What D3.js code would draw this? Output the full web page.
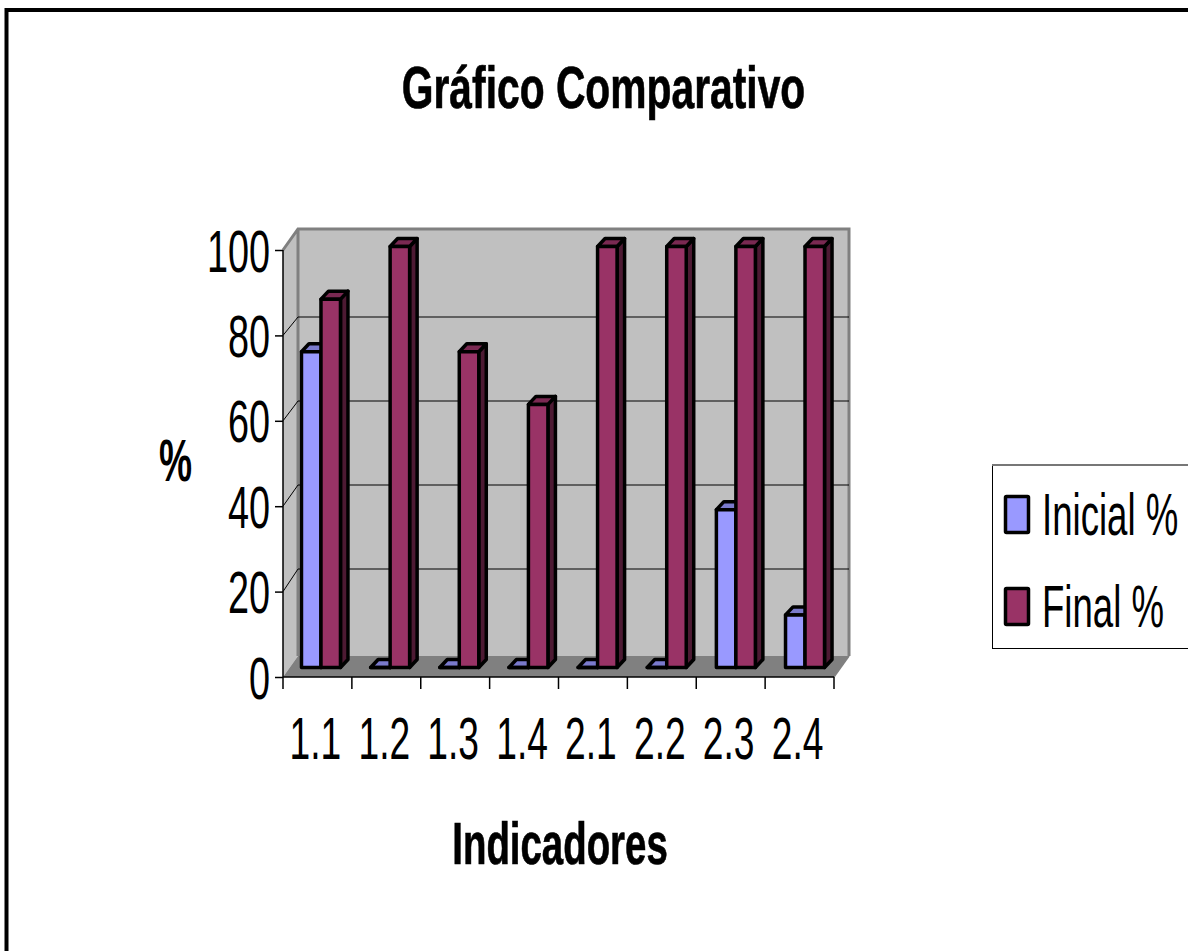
<!DOCTYPE html>
<html>
<head>
<meta charset="utf-8">
<script src="https://cdn.jsdelivr.net/npm/d3@7"></script>
<style>
  html, body { margin: 0; padding: 0; background: #fff; }
  svg { display: block; }
  text { font-family: "Liberation Sans", Arial, sans-serif; fill: #000; }
  .heavy { stroke: #000; stroke-width: 0.7px; }
</style>
</head>
<body>
<svg id="chart" width="1188" height="951"></svg>
<script>
const categories = ['1.1', '1.2', '1.3', '1.4', '2.1', '2.2', '2.3', '2.4'];
const inicial = [75, 0, 0, 0, 0, 0, 37.5, 12.5];
const final_ = [87.5, 100, 75, 62.5, 100, 100, 100, 100];
const yTicks = [0, 20, 40, 60, 80, 100];
const seriesNames = ['Inicial %', 'Final %'];
const seriesColors = ['#9999ff', '#993366'];
const sideColors = ['#6666b0', '#4d1a33'];
const topColors = ['#7a7acc', '#7a2952'];

const svg = d3.select('#chart');

// front plane of the 3d box
const x = d3.scaleBand().domain(categories).range([283, 834]);
const y = d3.scaleLinear().domain([0, 100]).range([677, 250]);
// bars stand half way into the box, gridlines on the back wall
const xBar = d3.scaleBand().domain(categories).range([286.4, 839.6]);
const yBar = d3.scaleLinear().domain([0, 100]).range([667.5, 246.5]);
const yWall = d3.scaleLinear().domain([0, 100]).range([653, 233]);

const wall = { dx: 15, dy: -21 };
const barDepth = { dx: 7.5, dy: -8 };
const barW = 19.5;

const poly = pts => pts.map(p => p.join(',')).join(' ');

// outer frame
svg.append('path').attr('d', 'M6.5,951V10H1188')
  .attr('fill', 'none').attr('stroke', '#000').attr('stroke-width', 4);

const x0 = x.range()[0], x1 = x.range()[1];
const yB = y(0), yT = y(100);

// walls + floor
svg.append('polygon')
  .attr('points', poly([[x0, yT], [x0 + wall.dx, yT + wall.dy], [x0 + wall.dx, yB + wall.dy], [x0, yB]]))
  .attr('fill', '#c0c0c0');
svg.append('rect').attr('x', x0 + wall.dx).attr('y', yT + wall.dy)
  .attr('width', x1 - x0).attr('height', yB - yT)
  .attr('fill', '#c0c0c0');
svg.append('polygon')
  .attr('points', poly([[x0, yB], [x0 + wall.dx, yB + wall.dy], [x1 + wall.dx, yB + wall.dy], [x1, yB]]))
  .attr('fill', '#808080');

// wall outline
svg.append('path')
  .attr('d', `M${x0},${yT}L${x0 + wall.dx},${yT + wall.dy}H${x1 + wall.dx}V${yB + wall.dy}M${x0 + wall.dx},${yT + wall.dy}V${yB + wall.dy}`)
  .attr('fill', 'none').attr('stroke', '#808080').attr('stroke-width', 3);
svg.append('path')
  .attr('d', `M${x1},${yB}L${x1 + wall.dx},${yB + wall.dy}`)
  .attr('fill', 'none').attr('stroke', '#808080').attr('stroke-width', 1.5);

// gridlines
const grid = svg.append('g').attr('stroke', '#000').attr('stroke-width', 1).attr('fill', 'none');
yTicks.filter(d => d > 0 && d < 100).forEach(d => {
  grid.append('path')
    .attr('d', `M${x0},${y(d)}L${x0 + wall.dx},${yWall(d)}H${x1 + wall.dx}`);
});

// bars
function drawBar(g, bx, value, s) {
  const top = yBar(value), bot = yBar(0);
  const dx = barDepth.dx, dy = barDepth.dy;
  const add = (pts, fill) => g.append('polygon').attr('points', poly(pts)).attr('fill', fill)
    .attr('stroke', '#000').attr('stroke-width', 3.5).attr('stroke-linejoin', 'round');
  add([[bx + barW, top], [bx + barW + dx, top + dy], [bx + barW + dx, bot + dy], [bx + barW, bot]], sideColors[s]);
  add([[bx, top], [bx + dx, top + dy], [bx + barW + dx, top + dy], [bx + barW, top]], topColors[s]);
  add([[bx, top], [bx + barW, top], [bx + barW, bot], [bx, bot]], seriesColors[s]);
}

const bars = svg.append('g');
categories.forEach((c, i) => {
  const mid = xBar(c) + xBar.bandwidth() / 2;
  drawBar(bars, mid - barW, inicial[i], 0);
  drawBar(bars, mid, final_[i], 1);
});

// axes
const yAxis = svg.append('g').attr('transform', `translate(${x0},0)`)
  .call(d3.axisLeft(y).tickValues(yTicks).tickSize(8).tickPadding(0));
yAxis.select('.domain').attr('stroke', '#000').attr('stroke-width', 1.5).attr('d', `M0,${yT}V${yB}`);
yAxis.selectAll('.tick line').attr('stroke', '#000').attr('stroke-width', 1.5);
yAxis.selectAll('.tick text')
  .attr('font-size', 60).attr('x', 0).attr('dy', '0.35em').attr('text-anchor', 'end')
  .attr('transform', 'translate(-13,0) scale(0.63,1)');

const xAxis = svg.append('g').attr('transform', `translate(0,${yB})`)
  .call(d3.axisBottom(x).tickSize(0).tickPadding(0));
xAxis.select('.domain').attr('stroke', '#000').attr('stroke-width', 1.5).attr('d', `M${x0},0H${x1}`);
xAxis.selectAll('.tick text')
  .attr('font-size', 60).attr('y', 0).attr('dy', 0)
  .attr('transform', 'translate(-2,82) scale(0.62,1)');
// tick marks sit on the band edges
svg.append('g').selectAll('line').data(categories.concat(['end'])).join('line')
  .attr('x1', (d, i) => x0 + x.step() * i).attr('x2', (d, i) => x0 + x.step() * i)
  .attr('y1', yB).attr('y2', yB + 12)
  .attr('stroke', '#000').attr('stroke-width', 1.5);

// titles
svg.append('text').attr('class', 'heavy').text('Gráfico Comparativo')
  .attr('font-size', 60).attr('font-weight', 'bold').attr('text-anchor', 'middle')
  .attr('transform', 'translate(603.5,108) scale(0.68,1)');
svg.append('text').attr('class', 'heavy').text('Indicadores')
  .attr('font-size', 60).attr('font-weight', 'bold').attr('text-anchor', 'middle')
  .attr('transform', 'translate(560,864) scale(0.64,1)');
svg.append('text').text('%')
  .attr('font-size', 60).attr('font-weight', 'bold').attr('text-anchor', 'middle')
  .attr('transform', 'translate(175.5,481) scale(0.62,1)');

// legend
const legend = svg.append('g');
legend.append('rect').attr('x', 992.5).attr('y', 465.5).attr('width', 200).attr('height', 183)
  .attr('fill', '#fff').attr('stroke', '#000').attr('stroke-width', 1);
legend.append('line').attr('x1', 992).attr('x2', 1188).attr('y1', 465).attr('y2', 465)
  .attr('stroke', '#777').attr('stroke-width', 2);
seriesNames.forEach((name, i) => {
  const ly = 496.5 + i * 92;
  legend.append('rect').attr('x', 1005.5).attr('y', ly).attr('width', 23).attr('height', 36).attr('rx', 1)
    .attr('fill', seriesColors[i]).attr('stroke', '#000').attr('stroke-width', 3.5);
  legend.append('text').text(name)
    .attr('font-size', 60)
    .attr('transform', `translate(1042,${ly + 38.5}) scale(0.61,1)`);
});
</script>
</body>
</html>
